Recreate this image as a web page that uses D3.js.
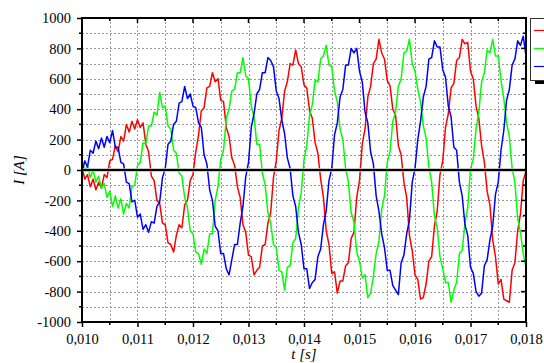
<!DOCTYPE html>
<html>
<head>
<meta charset="utf-8">
<script src="https://cdn.jsdelivr.net/npm/d3@7"></script>
<style>
  html, body { margin: 0; padding: 0; background: #fff; }
  svg { display: block; }
  text { font-family: "Liberation Serif", "DejaVu Serif", serif; fill: #000; }
</style>
</head>
<body>
<svg id="chart" width="544" height="363"></svg>
<script>
// Three-phase stator currents, sampled every 50 µs from 10 ms to 18 ms
const tStart = 0.010;
const tStep = 0.00005;

const phaseA = [20,-60,-30,-110,-60,-130,-80,-120,-30,-50,60,70,160,120,220,190,300,250,320,270,330,280,310,170,120,-40,-70,-200,-220,-350,-360,-480,-490,-540,-430,-360,-380,-230,-200,-70,-30,120,230,390,410,540,550,640,580,600,460,450,280,220,80,30,-110,-180,-360,-410,-560,-570,-690,-660,-640,-500,-490,-350,-280,-50,60,260,340,520,580,700,690,790,700,680,560,540,390,340,180,110,-60,-180,-400,-490,-680,-670,-810,-730,-730,-630,-610,-450,-410,-180,-70,170,270,480,550,700,730,860,770,730,590,555,400,360,160,100,-80,-180,-430,-530,-690,-720,-850,-840,-750,-600,-570,-370,-270,-30,60,280,370,540,570,720,740,860,830,840,650,600,420,340,160,50,-140,-230,-460,-570,-750,-720,-850,-860,-870,-660,-610,-400,-290,-70,-10];

const phaseB = [70,-10,30,-50,0,-80,-40,-120,-90,-180,-140,-240,-170,-250,-190,-290,-220,-250,-110,-100,30,50,180,170,290,290,380,360,510,410,420,290,270,130,110,-20,-40,-180,-250,-400,-420,-540,-550,-620,-520,-550,-420,-420,-200,-110,70,130,340,400,520,530,640,640,740,620,600,420,350,170,170,-20,-100,-280,-350,-490,-510,-660,-670,-790,-640,-630,-480,-450,-250,-150,70,160,360,430,590,580,730,750,820,690,680,520,450,270,200,10,-80,-280,-340,-540,-600,-710,-690,-840,-810,-700,-550,-470,-260,-170,50,120,320,380,550,600,770,780,860,700,650,530,450,290,210,20,-80,-300,-380,-570,-650,-740,-740,-870,-790,-740,-550,-530,-350,-250,10,70,270,380,580,640,790,770,860,750,750,590,470,310,220,10,-80,-320,-410,-550,-640];

const phaseC = [-20,60,20,130,110,190,140,210,150,220,180,260,150,150,50,40,-80,-90,-210,-200,-310,-290,-390,-360,-410,-340,-350,-240,-210,-50,10,170,190,300,320,440,450,550,470,500,420,410,310,280,100,40,-130,-200,-370,-400,-550,-550,-650,-690,-590,-490,-490,-350,-240,-45,50,280,370,500,530,640,640,740,720,680,520,470,330,240,80,10,-170,-240,-410,-490,-650,-650,-780,-740,-720,-570,-520,-360,-270,-70,10,230,310,480,530,690,690,800,770,800,650,580,380,310,120,40,-170,-270,-420,-510,-660,-660,-760,-790,-820,-610,-560,-420,-330,-80,10,200,320,480,550,730,740,850,810,810,660,610,420,350,150,130,-80,-170,-360,-430,-640,-680,-800,-830,-810,-630,-590,-460,-370,-160,-80,130,260,460,530,690,730,850,820,880,750];

const seriesColors = ["#ff0000", "#00ff00", "#0000ff"];
const xTickValues = [0.010, 0.011, 0.012, 0.013, 0.014, 0.015, 0.016, 0.017, 0.018];
const yTickValues = [-1000, -800, -600, -400, -200, 0, 200, 400, 600, 800, 1000];

const svg = d3.select("#chart");
const pL = 82, pR = 526, pT = 18, pB = 322;

const x = d3.scaleLinear().domain([0.010, 0.018]).range([pL, pR]);
const y = d3.scaleLinear().domain([-1000, 1000]).range([pB, pT]);

// dotted grid every 0.5 ms and every 100 A
const xMinor = d3.range(0, 17).map(k => 0.010 + k * 0.0005);
const yMinor = d3.range(-10, 11).map(k => k * 100);

const grid = svg.append("g");
grid.selectAll("line.gx").data(xMinor.slice(1, -1)).join("line")
  .attr("x1", d => Math.round(x(d)) + 0.5).attr("x2", d => Math.round(x(d)) + 0.5)
  .attr("y1", pT).attr("y2", pB)
  .attr("stroke", "#9a9a9a").attr("stroke-width", 1)
  .attr("stroke-dasharray", "2,2");
grid.selectAll("line.gy").data(yMinor.slice(1, -1)).join("line")
  .attr("y1", d => Math.round(y(d)) + 0.5).attr("y2", d => Math.round(y(d)) + 0.5)
  .attr("x1", pL).attr("x2", pR)
  .attr("stroke", "#9a9a9a").attr("stroke-width", 1)
  .attr("stroke-dasharray", "2,2");

// current traces
svg.append("clipPath").attr("id", "plotClip")
  .append("rect").attr("x", pL).attr("y", pT)
  .attr("width", pR - pL).attr("height", pB - pT);

const line = d3.line()
  .x((d, i) => x(tStart + i * tStep))
  .y(d => y(d));

const traces = svg.append("g").attr("clip-path", "url(#plotClip)");
[phaseA, phaseB, phaseC].forEach((s, k) => {
  traces.append("path")
    .attr("d", line(s))
    .attr("fill", "none")
    .attr("stroke", seriesColors[k])
    .attr("stroke-width", 1.5)
    .attr("stroke-linejoin", "round");
});

// zero reference line
svg.append("line")
  .attr("x1", pL).attr("x2", pR)
  .attr("y1", y(0)).attr("y2", y(0))
  .attr("stroke", "#bbb").attr("stroke-width", 3.5);
svg.append("line")
  .attr("x1", pL).attr("x2", pR)
  .attr("y1", y(0)).attr("y2", y(0))
  .attr("stroke", "#000").attr("stroke-width", 2);

// axes
const fmtX = d => d3.format(".3f")(d).replace(".", ",");

const xAxis = svg.append("g").attr("transform", `translate(0,${pB})`)
  .call(d3.axisBottom(x).tickValues(xTickValues).tickFormat(fmtX).tickSize(5).tickPadding(7));
const yAxis = svg.append("g").attr("transform", `translate(${pL},0)`)
  .call(d3.axisLeft(y).tickValues(yTickValues).tickFormat(d => d3.format("d")(d).replace("−", "-")).tickSize(5).tickPadding(6));

[xAxis, yAxis].forEach(g => {
  g.select(".domain").remove();
  g.selectAll(".tick line").attr("stroke", "#000").attr("stroke-width", 1.5);
  g.selectAll(".tick text").attr("font-size", 14.5)
    .attr("font-family", "'Liberation Serif', serif").attr("fill", "#000");
});

// minor ticks: outward on bottom/left, inward on top/right
const ticks = svg.append("g").attr("stroke", "#000").attr("stroke-width", 1.5);
ticks.selectAll("line.bx").data(xMinor.filter((d, i) => i % 2 === 1)).join("line")
  .attr("x1", d => x(d)).attr("x2", d => x(d)).attr("y1", pB).attr("y2", pB + 3);
ticks.selectAll("line.ly").data(yMinor.filter((d, i) => i % 2 === 1)).join("line")
  .attr("y1", d => y(d)).attr("y2", d => y(d)).attr("x1", pL).attr("x2", pL - 3);
ticks.selectAll("line.tx").data(xMinor.slice(1, -1)).join("line")
  .attr("x1", d => x(d)).attr("x2", d => x(d)).attr("y1", pT)
  .attr("y2", (d, i) => pT + (i % 2 === 1 ? 5 : 3));
ticks.selectAll("line.ry").data(yMinor.slice(1, -1)).join("line")
  .attr("y1", d => y(d)).attr("y2", d => y(d)).attr("x1", pR)
  .attr("x2", (d, i) => pR - (i % 2 === 1 ? 5 : 3));

// frame
svg.append("rect")
  .attr("x", pL).attr("y", pT)
  .attr("width", pR - pL).attr("height", pB - pT)
  .attr("fill", "none").attr("stroke", "#000").attr("stroke-width", 2);

// axis titles
svg.append("text")
  .attr("x", 304).attr("y", 359)
  .attr("text-anchor", "middle")
  .attr("font-size", 15).attr("font-style", "italic")
  .text("t [s]");
svg.append("text")
  .attr("transform", "translate(24,170) rotate(-90)")
  .attr("text-anchor", "middle")
  .attr("font-size", 15).attr("font-style", "italic")
  .text("I [A]");

// legend box (partly beyond the right edge)
const legend = svg.append("g");
legend.append("rect")
  .attr("x", 535).attr("y", 22).attr("width", 40).attr("height", 62)
  .attr("fill", "#000");
legend.append("rect")
  .attr("x", 530.5).attr("y", 18.5).attr("width", 40).attr("height", 62)
  .attr("fill", "#fff").attr("stroke", "#333").attr("stroke-width", 1);
[30.5, 48.5, 66.5].forEach((ly, k) => {
  legend.append("line")
    .attr("x1", 534).attr("x2", 552)
    .attr("y1", ly).attr("y2", ly)
    .attr("stroke", seriesColors[k]).attr("stroke-width", 1.2);
});
</script>
</body>
</html>
